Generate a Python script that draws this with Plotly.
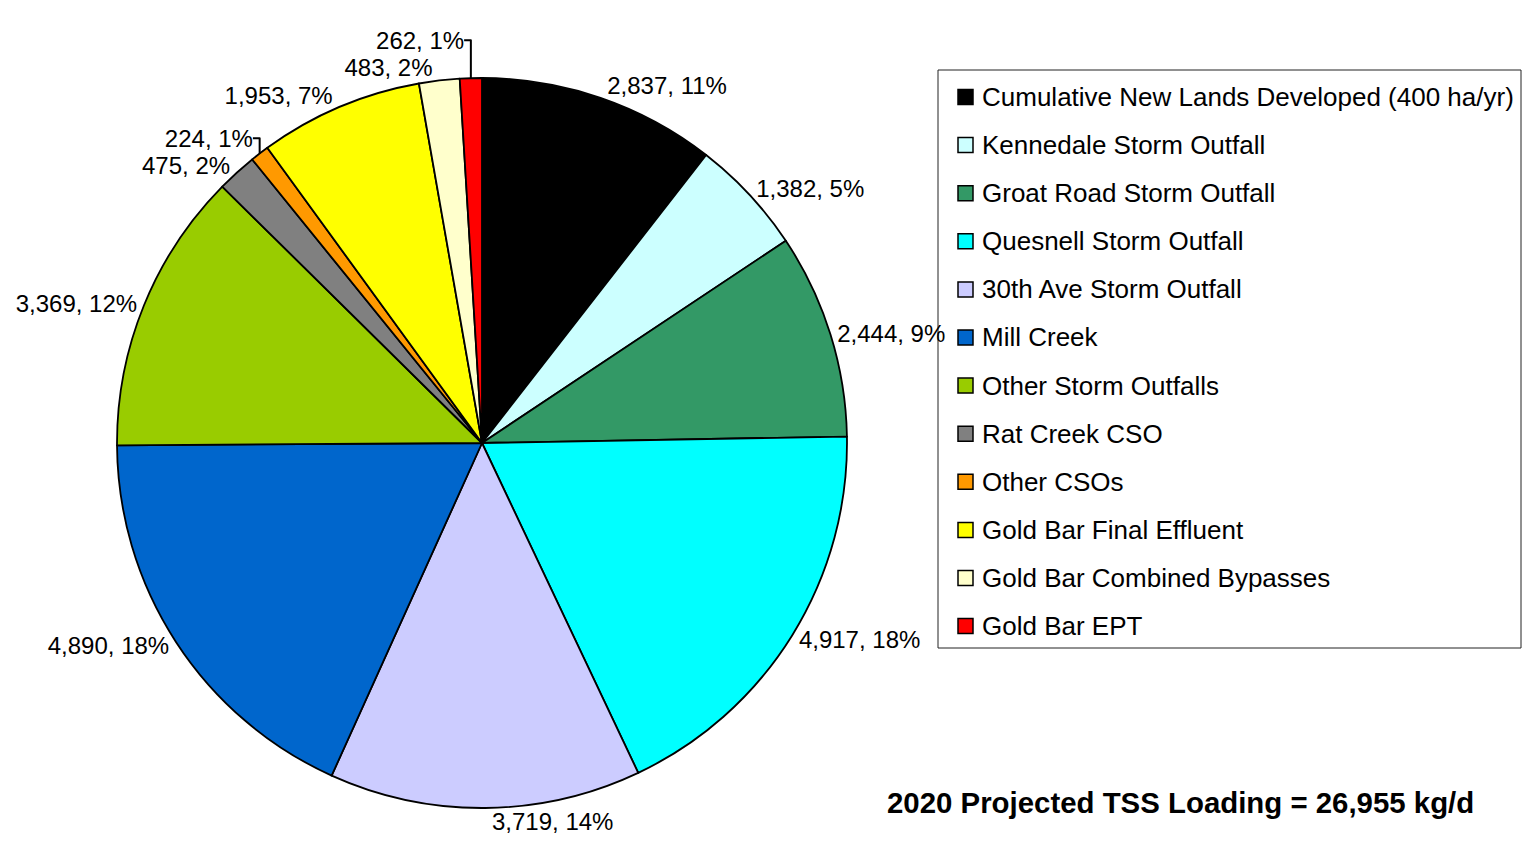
import plotly.graph_objects as go

W, H = 1524, 840  # keeps the page free of scrollbars
OFF = 8  # the page's body margin shifts the figure by this much
FONT = "Liberation Sans, Arial, sans-serif"

sources = [
    "Cumulative New Lands Developed (400 ha/yr)",
    "Kennedale Storm Outfall",
    "Groat Road Storm Outfall",
    "Quesnell Storm Outfall",
    "30th Ave Storm Outfall",
    "Mill Creek",
    "Other Storm Outfalls",
    "Rat Creek CSO",
    "Other CSOs",
    "Gold Bar Final Effluent",
    "Gold Bar Combined Bypasses",
    "Gold Bar EPT",
]
loads_kg_d = [2837, 1382, 2444, 4917, 3719, 4890, 3369, 475, 224, 1953, 483, 262]
colors = [
    "#000000", "#CCFFFF", "#339966", "#00FFFF", "#CCCCFF", "#0066CC",
    "#99CC00", "#808080", "#FF9900", "#FFFF00", "#FFFFCC", "#FF0000",
]
total = sum(loads_kg_d)
note = f"2020 Projected TSS Loading = {total:,} kg/d"


def px(x):
    return (x - OFF) / W


def py(y):
    return 1 - (y - OFF) / H


# pie: centre (482, 443) px, radius 365 px on screen
fig = go.Figure(go.Pie(
    labels=sources, values=loads_kg_d, sort=False, direction="clockwise",
    rotation=0, marker=dict(colors=colors, line=dict(color="#000000", width=1.8)),
    texttemplate="%{value:,}, %{percent:.0%}", textposition="outside",
    outsidetextfont=dict(family=FONT, size=24, color="#000000"),
    domain=dict(x=[px(117), px(847)], y=[py(808), py(78)]),
    showlegend=False, hoverinfo="label+value+percent",
))

# legend drawn by hand so the row spacing matches the original
box_l, box_t, box_r, box_b = 938, 70, 1521, 648
row0, row_gap, sw = 97, 48.1, 15
fig.add_shape(type="rect", xref="paper", yref="paper",
              x0=px(box_l), x1=px(box_r), y0=py(box_b), y1=py(box_t),
              line=dict(color="#222222", width=1), fillcolor="white", layer="below")
for i, (name, col) in enumerate(zip(sources, colors)):
    cy = row0 + i * row_gap
    fig.add_shape(type="rect", xref="paper", yref="paper",
                  x0=px(958), x1=px(958 + sw), y0=py(cy + sw / 2), y1=py(cy - sw / 2),
                  line=dict(color="#000000", width=1.5), fillcolor=col)
    fig.add_annotation(text=name, xref="paper", yref="paper", x=px(980), y=py(cy),
                       xanchor="left", yanchor="middle", showarrow=False,
                       font=dict(family=FONT, size=26, color="#000000"))

fig.add_annotation(text=f"<b>{note}</b>", xref="paper", yref="paper",
                   x=px(1180), y=py(802), xanchor="center", yanchor="middle",
                   showarrow=False, font=dict(family=FONT, size=29.4, color="#000000"))

fig.update_layout(
    width=W, height=H, margin=dict(l=0, r=0, t=0, b=0, autoexpand=False),
    paper_bgcolor="white", plot_bgcolor="white",
)
fig.write_html("out.html")
